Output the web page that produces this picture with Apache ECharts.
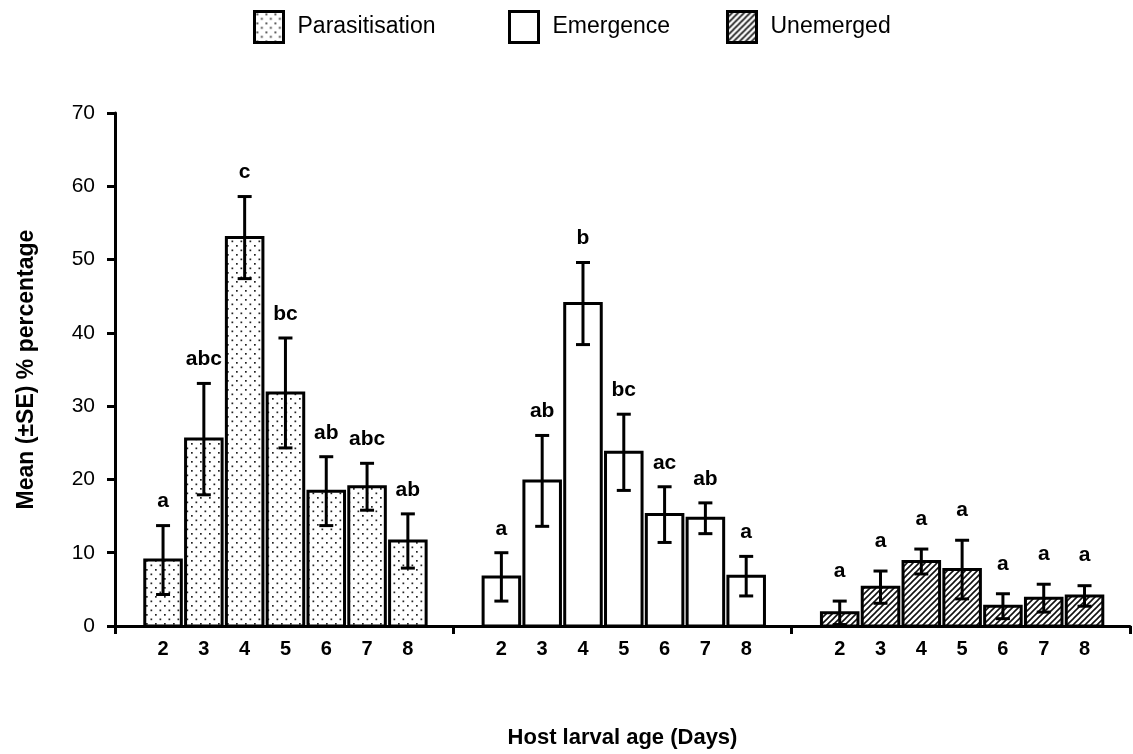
<!DOCTYPE html>
<html><head><meta charset="utf-8">
<script src="https://cdn.jsdelivr.net/npm/echarts@6/dist/echarts.min.js"></script>
<style>html,body{margin:0;padding:0;background:#fff}#c{width:1133px;height:754px}</style>
</head><body><div id="c"></div>
<script>
// ---- data ----
const ages = ['2','3','4','5','6','7','8'];
const groupNames = ['Parasitisation','Emergence','Unemerged'];
const parasitisationMean = [9.0, 25.5, 53.0, 31.8, 18.4, 19.0, 11.6];
const parasitisationSE   = [4.7, 7.6, 5.6, 7.5, 4.7, 3.2, 3.7];
const parasitisationLetters = ['a','abc','c','bc','ab','abc','ab'];
const emergenceMean = [6.7, 19.8, 44.0, 23.7, 15.2, 14.7, 6.8];
const emergenceSE   = [3.3, 6.2, 5.6, 5.2, 3.8, 2.1, 2.7];
const emergenceLetters = ['a','ab','b','bc','ac','ab','a'];
const unemergedMean = [1.8, 5.3, 8.8, 7.7, 2.7, 3.8, 4.1];
const unemergedSE   = [1.6, 2.2, 1.7, 4.0, 1.7, 1.9, 1.4];
const unemergedLetters = ['a','a','a','a','a','a','a'];
const yTickLabels = ['0','10','20','30','40','50','60','70'];

// ---- layout constants (in group units of the x axis) ----
const C0 = 0.142, PITCH = 0.1206, BW = 0.108;

function dotPattern(){
  const c=document.createElement('canvas'); c.width=9; c.height=9;
  const g=c.getContext('2d'); g.fillStyle='#fff'; g.fillRect(0,0,9,9);
  g.fillStyle='#222'; g.fillRect(2,2,1.7,1.7); g.fillRect(6.5,6.5,1.7,1.7);
  return {image:c, repeat:'repeat'};
}
function hatchPattern(){
  const c=document.createElement('canvas'); c.width=6; c.height=6;
  const g=c.getContext('2d'); g.fillStyle='#fff'; g.fillRect(0,0,6,6);
  g.strokeStyle='#111'; g.lineWidth=1.6; g.beginPath();
  g.moveTo(-1,7); g.lineTo(7,-1); g.moveTo(-1,1); g.lineTo(1,-1); g.moveTo(5,7); g.lineTo(7,5); g.stroke();
  return {image:c, repeat:'repeat'};
}
function plainPattern(){
  const c=document.createElement('canvas'); c.width=4; c.height=4;
  const g=c.getContext('2d'); g.fillStyle='#fff'; g.fillRect(0,0,4,4);
  return {image:c, repeat:'repeat'};
}
const fills = [dotPattern(), plainPattern(), hatchPattern()];
const labelOffsets = [24, 24, 30];

function makeSeries(gi, mean, se, letters){
  return {
    type:'custom', name: groupNames[gi], coordinateSystem:'cartesian2d', clip:false,
    itemStyle:{color: fills[gi], borderColor:'#000', borderWidth:3},
    encode:{x:0, y:1},
    data: mean.map((m,i)=>[gi + C0 + i*PITCH, m, se[i], i]),
    renderItem(params, api){
      const x=api.value(0), m=api.value(1), s=api.value(2), i=api.value(3);
      const base=api.coord([x,0]), top=api.coord([x,m]);
      const l=api.coord([x-BW/2,0]), r=api.coord([x+BW/2,0]);
      const hi=api.coord([x,m+s]), lo=api.coord([x,Math.max(m-s,0)]);
      const cw=7, st={stroke:'#000', lineWidth:3};
      return {type:'group', children:[
        {type:'rect', shape:{x:l[0], y:top[1], width:r[0]-l[0], height:base[1]-top[1]},
         style:{fill:fills[gi], stroke:'#000', lineWidth:3}},
        {type:'line', shape:{x1:top[0], y1:hi[1], x2:top[0], y2:lo[1]}, style:st},
        {type:'line', shape:{x1:top[0]-cw, y1:hi[1], x2:top[0]+cw, y2:hi[1]}, style:st},
        {type:'line', shape:{x1:top[0]-cw, y1:lo[1], x2:top[0]+cw, y2:lo[1]}, style:st},
        {type:'text', x:top[0], y:hi[1]-labelOffsets[gi], style:{text:letters[i], fill:'#000',
          font:'bold 21px "Liberation Sans", Arial, sans-serif', align:'center', verticalAlign:'middle'}},
        {type:'text', x:top[0], y:base[1]+23, style:{text:ages[i], fill:'#000',
          font:'bold 20px "Liberation Sans", Arial, sans-serif', align:'center', verticalAlign:'middle'}}
      ]};
    }
  };
}

const legendLefts = [253, 508, 726];
const chart = echarts.init(document.getElementById('c'), null, {renderer:'canvas'});
chart.setOption({
  animation:false,
  backgroundColor:'#fff',
  grid:{left:115, right:3, top:113, bottom:119, containLabel:false},
  legend: groupNames.map((n,gi)=>({
    left: legendLefts[gi], top:10, padding:0, itemWidth:29, itemHeight:31, selectedMode:false,
    data:[{name:n, icon:'rect', itemStyle:{color:fills[gi], borderColor:'#000', borderWidth:3}}],
    textStyle:{fontSize:23, color:'#000', fontFamily:'"Liberation Sans", Arial', padding:[0,0,0,9]}
  })),
  xAxis:{type:'value', min:0, max:3, interval:1,
    axisLine:{show:true, lineStyle:{color:'#000', width:3}},
    axisTick:{show:true, length:8, lineStyle:{color:'#000', width:3}},
    axisLabel:{show:false}, splitLine:{show:false},
    name:'Host larval age (Days)', nameLocation:'middle', nameGap:101,
    nameTextStyle:{fontWeight:'bold', fontSize:22, color:'#000', fontFamily:'"Liberation Sans", Arial'}},
  yAxis:{type:'value', min:0, max:70, interval:10,
    axisLine:{show:true, lineStyle:{color:'#000', width:3}},
    axisTick:{show:true, length:8, lineStyle:{color:'#000', width:3}},
    axisLabel:{fontSize:21, color:'#000', margin:20, fontFamily:'"Liberation Sans", Arial',
      formatter:(v)=>yTickLabels[Math.round(v/10)]},
    splitLine:{show:false},
    name:'Mean (±SE) % percentage', nameLocation:'middle', nameGap:77, nameRotate:90,
    nameTextStyle:{fontWeight:'bold', fontSize:23, color:'#000', fontFamily:'"Liberation Sans", Arial'}},
  series:[
    makeSeries(0, parasitisationMean, parasitisationSE, parasitisationLetters),
    makeSeries(1, emergenceMean, emergenceSE, emergenceLetters),
    makeSeries(2, unemergedMean, unemergedSE, unemergedLetters)
  ]
});
</script></body></html>
